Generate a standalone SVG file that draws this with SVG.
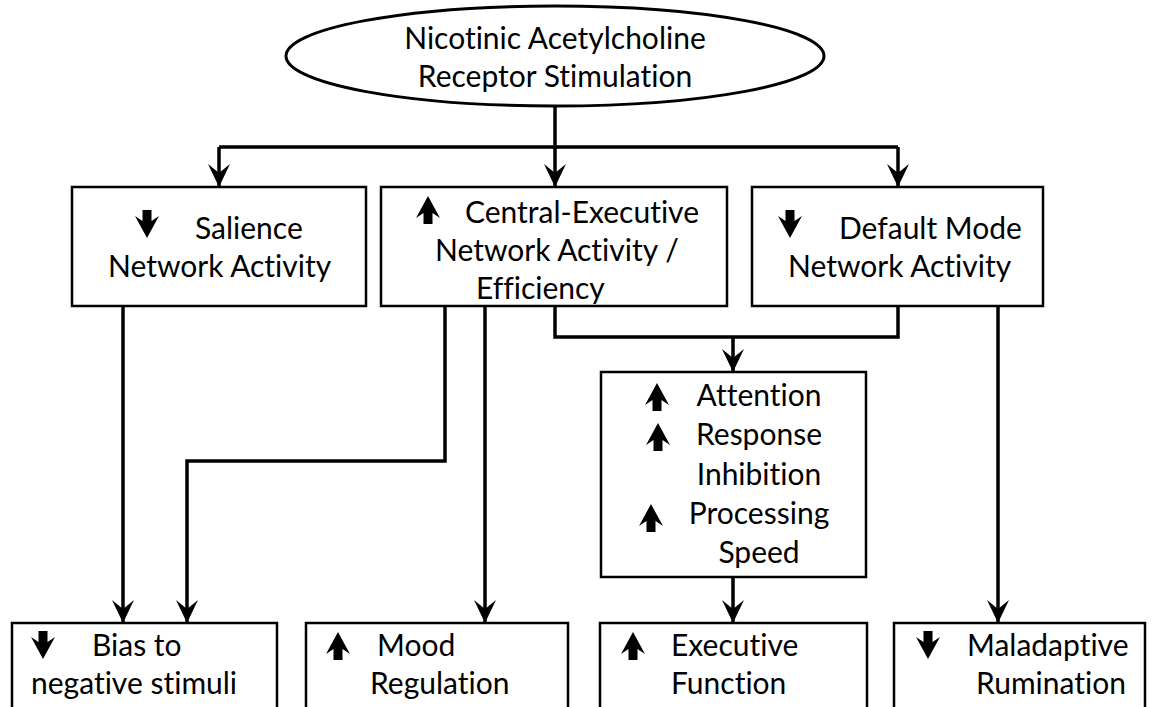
<svg xmlns="http://www.w3.org/2000/svg" xmlns:xlink="http://www.w3.org/1999/xlink" width="1158" height="707" viewBox="0 0 1158 707">
<style>
.t{font-family:Lato,"Open Sans","Liberation Sans",sans-serif;font-size:30px;fill:#000;font-variant-ligatures:none;font-feature-settings:"liga" 0}
.c{text-anchor:middle}
.box{fill:#fff;stroke:#000;stroke-width:2.5}
.ln{fill:none;stroke:#000;stroke-width:3.5}
.ar{fill:none;stroke:#000;stroke-width:3.5;marker-end:url(#ah)}
</style>
<defs>
<marker id="ah" markerUnits="userSpaceOnUse" markerWidth="26" markerHeight="26" viewBox="-24 -13 26 26" refX="0" refY="0" orient="auto">
<path d="M1,0 L-22,-11 L-13,0 L-22,11 Z" fill="#000"/>
</marker>
<path id="dn" d="M-4.5,-14 H4.5 V-3 L12,-8 L0,14 L-12,-8 L-4.5,-3 Z" fill="#000"/>
<path id="up" d="M-4.5,14 H4.5 V3 L12,8 L0,-14 L-12,8 L-4.5,3 Z" fill="#000"/>
</defs>
<rect width="1158" height="707" fill="#fff"/>

<g id="connectors">
<path class="ln" d="M555,106 V147 M219,147 H898"/>
<path class="ar" d="M219,147 V186"/>
<path class="ar" d="M555,147 V186"/>
<path class="ar" d="M898,147 V186"/>
<path class="ar" d="M123,306 V622"/>
<path class="ar" d="M445,306 V461 H187 V622"/>
<path class="ar" d="M485,306 V622"/>
<path class="ln" d="M555,306 V337 H898 V306"/>
<path class="ar" d="M733,337 V371"/>
<path class="ar" d="M733,577 V622"/>
<path class="ar" d="M998,306 V622"/>
</g>

<g id="nAChR">
<ellipse cx="555" cy="56" rx="269" ry="50" fill="#fff" stroke="#000" stroke-width="3"/>
<text class="t c" x="555" y="49">Nicotinic Acetylcholine</text>
<text class="t c" x="555" y="87">Receptor Stimulation</text>
</g>

<g id="salience">
<rect class="box" x="72" y="187" width="294" height="119"/>
<use href="#dn" x="147" y="224"/>
<text class="t" x="195" y="239">Salience</text>
<text class="t" x="108" y="277">Network Activity</text>
</g>

<g id="central">
<rect class="box" x="381" y="187" width="346" height="119"/>
<use href="#up" x="428" y="210"/>
<text class="t" x="465" y="223">Central-Executive</text>
<text class="t" x="435" y="261">Network Activity /</text>
<text class="t" x="476" y="299">Efficiency</text>
</g>

<g id="default">
<rect class="box" x="752" y="187" width="291" height="119"/>
<use href="#dn" x="790" y="224"/>
<text class="t" x="839" y="239">Default Mode</text>
<text class="t" x="788" y="277">Network Activity</text>
</g>

<g id="attention">
<rect class="box" x="601" y="372" width="265" height="205"/>
<use href="#up" x="657" y="397"/>
<use href="#up" x="658" y="437"/>
<use href="#up" x="651" y="518"/>
<text class="t c" x="759" y="406">Attention</text>
<text class="t c" x="759" y="445">Response</text>
<text class="t c" x="759" y="485">Inhibition</text>
<text class="t c" x="759" y="524">Processing</text>
<text class="t c" x="759" y="563">Speed</text>
</g>

<g id="bias">
<rect class="box" x="12" y="623" width="265" height="110"/>
<use href="#dn" x="43" y="645"/>
<text class="t" x="92" y="656">Bias to</text>
<text class="t" x="31" y="694">negative stimuli</text>
</g>

<g id="mood">
<rect class="box" x="306" y="623" width="262" height="110"/>
<use href="#up" x="338" y="646"/>
<text class="t" x="377" y="656">Mood</text>
<text class="t" x="370" y="694">Regulation</text>
</g>

<g id="executive">
<rect class="box" x="600" y="623" width="267" height="110"/>
<use href="#up" x="633" y="646"/>
<text class="t" x="671" y="656">Executive</text>
<text class="t" x="671" y="694">Function</text>
</g>

<g id="rumination">
<rect class="box" x="894" y="623" width="251" height="110"/>
<use href="#dn" x="928" y="645"/>
<text class="t" x="967" y="656">Maladaptive</text>
<text class="t" x="976" y="694">Rumination</text>
</g>
</svg>
